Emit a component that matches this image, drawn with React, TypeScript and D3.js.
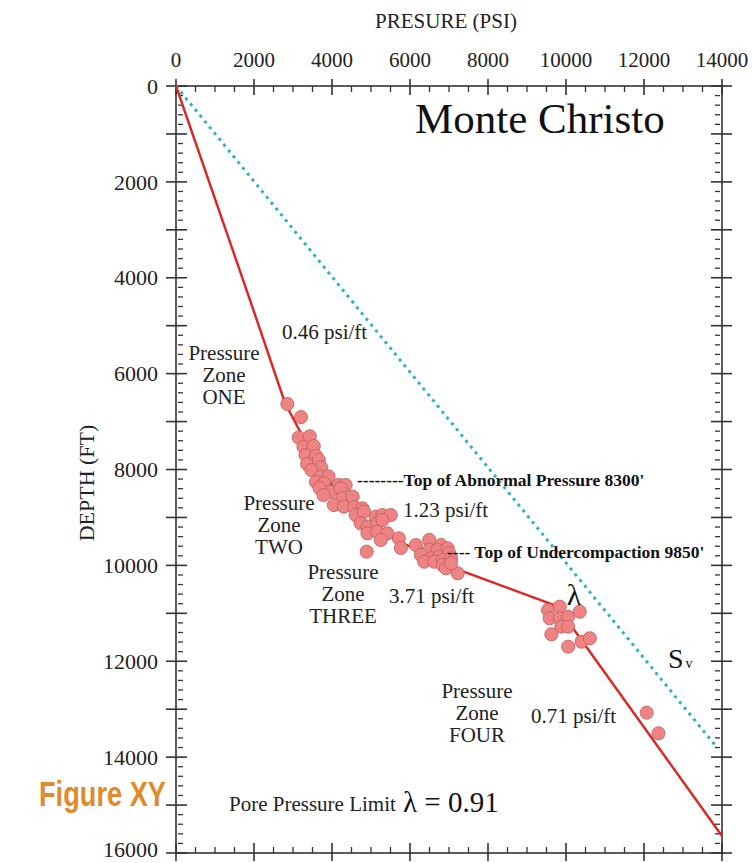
import React from "react";
import * as d3 from "d3";

// tick labels
const pressureTicks = [0, 2000, 4000, 6000, 8000, 10000, 12000, 14000];
const depthTicks = [0, 2000, 4000, 6000, 8000, 10000, 12000, 14000, 16000];

// measured pore pressure (psi) vs depth (ft)
const pointPressure = [
  2857, 3204, 3147, 3431, 3268, 3533, 3320, 3590, 3364, 3662, 3719, 3474, 3706, 3912, 3590, 3791,
  4177, 4349, 3680, 3963, 4221, 3783, 4264, 4529, 4048, 4305, 4563, 4779, 4607, 4820, 5121, 5294,
  5507, 4735, 4908, 5165, 4908, 5165, 5422, 5250, 4890, 5713, 5765, 5294,
  6151, 6493, 6794, 6493, 6709, 6966, 6279, 6537, 6750, 7008, 6364, 6622, 6838, 7051, 6838, 6923,
  7224, 7051,
  9540, 9839, 9581, 9839, 10055, 10353, 9882, 10055, 9625, 10397, 10611, 10055, 12070, 12371,
];
const pointDepth = [
  6634, 6905, 7332, 7307, 7524, 7510, 7697, 7718, 7885, 7802, 7954, 8010, 8150, 8142, 8261, 8288,
  8323, 8323, 8386, 8463, 8392, 8532, 8601, 8567, 8740, 8776, 8782, 8809, 8949, 8880, 8984, 8949,
  8949, 9122, 9193, 9122, 9331, 9297, 9331, 9470, 9714, 9435, 9637, 9053,
  9575, 9470, 9575, 9679, 9679, 9644, 9783, 9852, 9818, 9748, 9923, 9923, 9888, 9852, 9992, 10061,
  10165, 9957,
  10931, 10862, 11104, 11104, 11070, 10966, 11279, 11279, 11438, 11592, 11521, 11696, 13073, 13503,
];

// pore pressure trend (red)
const trendPressure = [0, 1897, 2795, 3256, 3744, 4128, 4590, 5154, 6179, 7462, 9769, 10538, 14000];
const trendDepth = [0, 4464, 6613, 7322, 8010, 8490, 8886, 9262, 9679, 10159, 10848, 11717, 15645];

// overburden Sv (dotted)
const svPressure = [0, 13820];
const svDepth = [0, 13747];

const W = 752;
const H = 863;
const serif = "'Liberation Serif', 'Times New Roman', serif";

export default function App() {
  const x = d3.scaleLinear().domain([0, 14000]).range([176, 722]);
  const y = d3.scaleLinear().domain([0, 16000]).range([86, 853]);
  const [x0, x1] = x.range();
  const [y0, y1] = y.range();

  const line = d3
    .line<[number, number]>()
    .x((d) => x(d[0]))
    .y((d) => y(d[1]));

  const trend = line(trendPressure.map((p, i) => [p, trendDepth[i]]) as [number, number][]);
  const sv = line(svPressure.map((p, i) => [p, svDepth[i]]) as [number, number][]);

  const axisColor = "#333";
  const xMinor = d3.range(0, 14001, 500).filter((v) => v % 2000 !== 0);
  const yMid = d3.range(1000, 16000, 2000);
  const yMinor = d3.range(0, 16001, 200).filter((v) => v % 1000 !== 0);

  const zone = (cx: number, yb: number, last: string) => (
    <text x={cx} y={yb} textAnchor="middle" fontSize={21} fill="#222">
      <tspan x={cx}>Pressure</tspan>
      <tspan x={cx} dy={22}>Zone</tspan>
      <tspan x={cx} dy={22}>{last}</tspan>
    </text>
  );

  return (
    <svg
      width={W}
      height={H}
      style={{ position: "absolute", left: 0, top: 0, background: "#fff" }}
      fontFamily={serif}
    >
      <rect width={W} height={H} fill="#fff" />
      {/* titles */}
      <text x={446} y={28} textAnchor="middle" fontSize={21} fill="#222">PRESURE (PSI)</text>
      <text transform="translate(94,483) rotate(-90)" textAnchor="middle" fontSize={22} fill="#222">DEPTH (FT)</text>

      {/* frame */}
      <g stroke={axisColor} strokeWidth={1.6} fill="none">
        <rect x={x0} y={y0} width={x1 - x0} height={y1 - y0} />
        {pressureTicks.map((v) => (
          <g key={"xt" + v}>
            <line x1={x(v)} x2={x(v)} y1={y0 - 7} y2={y0 + 9} />
            <line x1={x(v)} x2={x(v)} y1={y1 - 10} y2={y1 + 8} />
          </g>
        ))}
        {xMinor.map((v) => (
          <g key={"xm" + v} strokeWidth={1.3}>
            <line x1={x(v)} x2={x(v)} y1={y0} y2={y0 + 6} />
            <line x1={x(v)} x2={x(v)} y1={y1} y2={y1 - 6} />
          </g>
        ))}
        {[...depthTicks, ...yMid].map((v) => (
          <g key={"yt" + v}>
            <line x1={x0 - 10} x2={x0 + 11} y1={y(v)} y2={y(v)} />
            <line x1={x1 - 11} x2={x1 + 10} y1={y(v)} y2={y(v)} />
          </g>
        ))}
        {yMinor.map((v) => (
          <g key={"ym" + v} strokeWidth={1.3}>
            <line x1={x0 + 2} x2={x0 + 7} y1={y(v)} y2={y(v)} />
            <line x1={x1 - 7} x2={x1 - 2} y1={y(v)} y2={y(v)} />
          </g>
        ))}
      </g>

      {/* tick labels */}
      {pressureTicks.map((v) => (
        <text key={"xl" + v} x={x(v)} y={67} textAnchor="middle" fontSize={21} fill="#222">
          {v}
        </text>
      ))}
      {depthTicks.map((v) => (
        <text key={"yl" + v} x={158} y={Math.min(y(v), 849)} dy="0.35em" textAnchor="end" fontSize={22} fill="#222">
          {v}
        </text>
      ))}

      {/* Sv dotted line */}
      <path d={sv ?? ""} fill="none" stroke="#2fb0c6" strokeWidth={3} strokeDasharray="3,4.5" />

      {/* trend line */}
      <path d={trend ?? ""} fill="none" stroke="#de2424" strokeWidth={2.4} strokeLinejoin="round" />

      {/* data points */}
      <g>
        {pointPressure.map((p, i) => (
          <circle
            key={"pt" + i}
            cx={x(p)}
            cy={y(pointDepth[i])}
            r={6.6}
            fill="#ef8383"
            stroke="#b85f5f"
            strokeWidth={0.8}
          />
        ))}
      </g>

      {/* annotations */}
      <text x={415} y={133} fontSize={43} fill="#111">Monte Christo</text>
      <text x={282} y={339} fontSize={21} fill="#222">0.46 psi/ft</text>
      {zone(224, 360, "ONE")}
      <text x={357} y={486} fontSize={17.5} fontWeight="bold" fill="#111">--------Top of Abnormal Pressure 8300'</text>
      <text x={403} y={517} fontSize={21} fill="#222">1.23 psi/ft</text>
      {zone(279, 510, "TWO")}
      <text x={447} y={558} fontSize={17.5} fontWeight="bold" fill="#111">---- Top of Undercompaction 9850'</text>
      {zone(343, 579, "THREE")}
      <text x={389} y={603} fontSize={21} fill="#222">3.71 psi/ft</text>
      <text x={574} y={605} textAnchor="middle" fontSize={30} fill="#111">λ</text>
      <text x={668} y={668} fontSize={28} fill="#111">S<tspan fontSize={14} dx={2}>v</tspan></text>
      {zone(477, 698, "FOUR")}
      <text x={531} y={723} fontSize={21} fill="#222">0.71 psi/ft</text>
      <text x={229} y={811} fontSize={21} fill="#222">Pore Pressure Limit</text>
      <text x={403} y={812} fontSize={29} fill="#111">λ = 0.91</text>
      <text
        x={39}
        y={806}
        fontSize={35}
        fontWeight="bold"
        fill="#e08a2c"
        textLength={127}
        lengthAdjust="spacingAndGlyphs"
        fontFamily="'Liberation Sans', Arial, sans-serif"
      >
        Figure XY
      </text>
    </svg>
  );
}
